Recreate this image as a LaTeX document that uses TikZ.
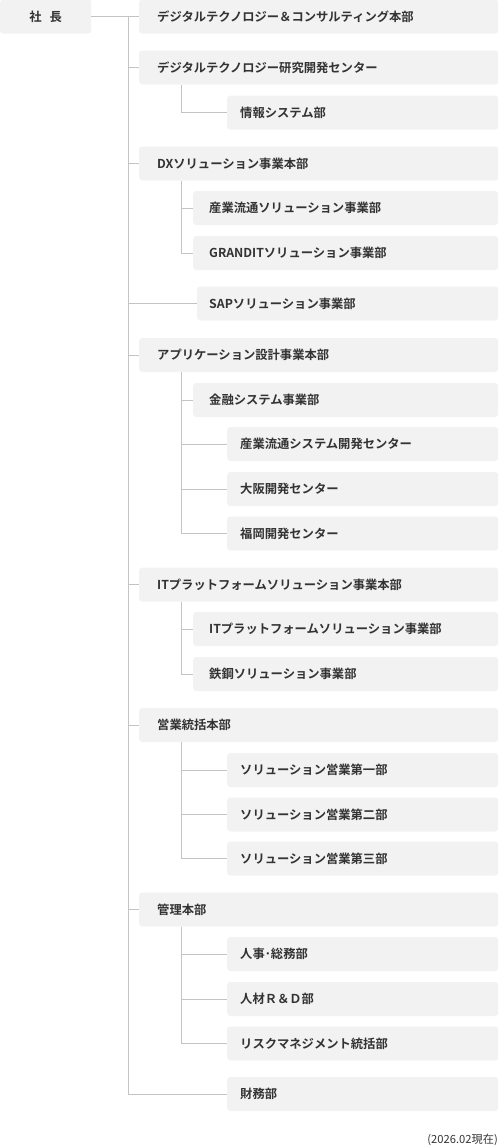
\documentclass[tikz,border=0pt]{standalone}
\usepackage{xcolor}
\usepackage{fontspec}
\setmainfont{Noto Sans CJK JP}[BoldFont={Noto Sans CJK JP Bold}]
\usepackage{tikz}

\definecolor{boxgray}{HTML}{F2F2F2}
\definecolor{inkgray}{HTML}{333333}
\definecolor{linegray}{HTML}{C4C4C4}

\begin{document}
\begin{tikzpicture}[x=1pt,y=-1pt,
    every node/.style={font=\fontsize{12.3}{14}\selectfont\bfseries, text=inkgray},
    box/.style={fill=boxgray, rounded corners=3pt, anchor=west, minimum height=34pt, align=left},
    head/.style={box, inner xsep=18pt, text width=323pt},
    sect/.style={box, inner xsep=16pt, text width=273pt},
    unit/.style={box, inner xsep=13pt, text width=245pt},
    link/.style={draw=linegray, line width=1pt}]
\useasboundingbox (0,0) rectangle (499,1146);

    \node[box, align=center, minimum width=91pt, text width=60pt] (pres) at (0,16.5) {社\hspace{0.65em}長};

    \node[head] (d1) at (139,16.5) {デジタルテクノロジー＆コンサルティング本部};
    \node[head] (d2) at (139,67.5) {デジタルテクノロジー研究開発センター};
    \node[unit] (u1) at (227,112.5) {情報システム部};

    \node[head] (d3) at (139,163.5) {DXソリューション事業本部};
    \node[sect] (s3a) at (193,208) {産業流通ソリューション事業部};
    \node[sect] (s3b) at (193,253) {GRANDITソリューション事業部};
    \node[box, inner xsep=12pt, text width=277pt] (sap) at (197,303.5) {SAPソリューション事業部};

    \node[head] (d4) at (139,355) {アプリケーション設計事業本部};
    \node[sect] (s4) at (193,400) {金融システム事業部};
    \node[unit] (u4a) at (227,444) {産業流通システム開発センター};
    \node[unit] (u4b) at (227,489) {大阪開発センター};
    \node[unit] (u4c) at (227,533.5) {福岡開発センター};

    \node[head] (d5) at (139,584.5) {ITプラットフォームソリューション事業本部};
    \node[sect] (s5a) at (193,629) {ITプラットフォームソリューション事業部};
    \node[sect] (s5b) at (193,674) {鉄鋼ソリューション事業部};

    \node[head] (d6) at (139,725) {営業統括本部};
    \node[unit] (u6a) at (227,770) {ソリューション営業第一部};
    \node[unit] (u6b) at (227,814.5) {ソリューション営業第二部};
    \node[unit] (u6c) at (227,858.5) {ソリューション営業第三部};

    \node[head] (d7) at (139,909.5) {管理本部};
    \node[unit] (u7a) at (227,954) {人事･総務部};
    \node[unit] (u7b) at (227,999) {人材Ｒ＆Ｄ部};
    \node[unit] (u7c) at (227,1043.5) {リスクマネジメント統括部};

    \node[unit] (zaimu) at (227,1094) {財務部};

    \node[anchor=east, font=\fontsize{11.2}{13}\selectfont, text=inkgray, inner sep=0pt] (date) at (498,1140) {(2026.02現在)};

    % trunk from the president
    \coordinate (trunk) at (128,16.5);
    \draw[link] (pres) -- (d1);
    \foreach \c in {d2,d3,sap,d4,d5,d6,d7,zaimu}
        \draw[link] (trunk) |- (\c.west);

    % branches under each division
    \draw[link] ([xshift=42pt]d2.south west) |- (u1.west);
    \foreach \c in {s3a,s3b}
        \draw[link] ([xshift=42pt]d3.south west) |- (\c.west);
    \foreach \c in {s4,u4a,u4b,u4c}
        \draw[link] ([xshift=42pt]d4.south west) |- (\c.west);
    \foreach \c in {s5a,s5b}
        \draw[link] ([xshift=42pt]d5.south west) |- (\c.west);
    \foreach \c in {u6a,u6b,u6c}
        \draw[link] ([xshift=42pt]d6.south west) |- (\c.west);
    \foreach \c in {u7a,u7b,u7c}
        \draw[link] ([xshift=42pt]d7.south west) |- (\c.west);

\end{tikzpicture}
\end{document}
